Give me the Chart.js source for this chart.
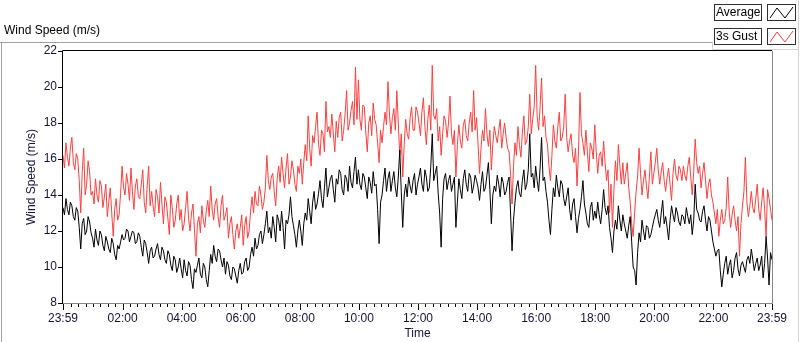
<!DOCTYPE html>
<html>
<head>
<meta charset="utf-8">
<script src="https://cdn.jsdelivr.net/npm/chart.js@4/dist/chart.umd.min.js"></script>
<style>
  html, body { margin: 0; padding: 0; background: #fff; }
  #wrap { width: 800px; height: 342px; }
</style>
</head>
<body>
<div id="wrap"><canvas id="windChart" width="800" height="342"></canvas></div>
<script>
// one sample every 3 minutes, starting 23:59 of the day before
const stepMinutes = 3;

// one row per hour
const avgSpeed = [
  13.3,12.9,13.8,13.2,12.9,13.6,13.4,12.8,12.6,13.3,13.1,12.2,11.0,12.4,12.7,11.8,12.0,12.8,12.5,11.9,
  11.6,11.1,12.1,11.5,11.2,12.0,11.8,11.2,10.9,11.7,11.4,11.0,10.8,11.6,11.3,10.7,10.4,11.2,11.0,11.4,
  11.8,11.5,11.6,12.1,12.0,11.4,11.7,12.0,11.9,11.3,11.4,11.9,11.7,11.1,10.6,11.5,11.3,10.8,10.2,10.9,
  11.1,10.5,10.6,11.0,11.3,10.7,10.4,11.1,10.9,10.4,10.2,10.9,10.7,10.1,9.8,10.6,10.4,9.7,10.0,10.5,
  9.9,9.4,10.4,9.8,9.5,10.3,10.1,9.3,8.8,9.9,9.7,10.1,10.5,9.6,9.4,10.2,10.0,9.3,8.9,9.8,
  10.7,10.2,11.2,10.6,10.3,11.0,10.9,10.4,10.0,10.5,9.6,10.3,10.1,9.5,9.3,10.0,9.9,9.5,9.1,9.8,
  10.2,9.6,9.7,10.3,10.5,9.8,10.0,10.7,11.1,10.6,11.6,11.0,11.2,11.8,12.0,11.3,11.8,12.4,13.1,11.9,
  12.2,11.6,12.8,12.2,11.4,12.9,12.6,12.0,13.1,12.2,11.0,12.6,12.4,12.9,13.9,12.8,12.3,11.8,11.1,12.0,
  12.6,12.0,11.2,12.4,13.0,12.6,13.8,13.1,12.4,13.6,14.2,13.2,13.5,14.1,14.8,13.8,13.3,14.4,15.5,13.9,
  14.4,14.9,15.1,14.3,13.6,14.9,14.6,15.4,15.2,14.3,14.0,15.1,14.9,14.2,15.6,14.7,14.4,15.3,16.1,14.6,
  15.4,14.6,14.3,15.2,15.0,14.4,13.8,15.0,14.7,14.1,15.3,14.5,14.6,13.2,11.3,13.6,14.0,14.8,15.5,14.2,
  14.9,15.3,14.2,14.8,15.3,14.4,13.9,15.0,16.5,14.2,12.2,14.0,14.6,13.9,15.0,14.5,14.1,14.8,15.2,14.0,
  14.6,15.0,15.5,14.6,14.2,15.4,15.0,14.2,14.4,15.6,17.4,14.8,15.2,15.6,14.1,13.0,11.1,13.8,14.9,15.2,
  14.3,14.8,15.1,14.2,14.6,15.0,12.2,13.6,14.9,14.3,13.8,14.9,15.4,14.6,14.2,15.2,15.0,14.1,14.5,15.1,
  14.8,14.4,13.7,14.6,15.3,14.2,14.4,15.1,15.8,14.3,12.4,14.0,14.5,14.2,15.1,14.6,13.9,15.0,14.7,14.0,
  14.2,14.7,15.0,13.0,10.9,12.6,13.6,14.4,14.8,14.1,13.9,14.8,15.4,14.3,14.6,15.4,17.4,15.0,15.2,14.4,
  15.6,14.8,14.2,15.5,17.2,14.8,15.0,14.2,13.6,12.6,11.8,13.2,14.4,13.9,15.1,14.4,13.9,14.8,14.6,13.8,
  13.4,13.9,14.4,13.2,12.6,13.5,13.8,12.8,11.9,12.7,13.2,13.9,14.8,13.5,13.0,12.4,12.2,13.3,13.6,12.6,
  13.1,12.7,13.6,12.9,12.4,13.2,14.3,13.3,12.9,13.4,12.2,11.6,10.8,12.0,12.6,12.1,13.4,12.6,12.0,12.9,
  12.4,12.0,11.6,12.3,12.8,11.4,10.0,9.8,9.0,10.8,11.9,11.4,12.6,12.0,11.5,12.3,12.2,11.6,11.8,12.2,
  12.6,12.9,13.2,12.6,12.2,13.0,13.7,12.4,12.8,12.2,11.5,12.6,13.4,12.9,12.5,13.3,13.0,12.5,12.3,12.9,
  12.8,12.4,13.3,12.8,12.4,12.9,11.8,12.6,14.6,13.2,13.0,12.6,12.5,13.1,13.4,12.6,12.0,12.8,12.6,12.0,
  11.4,11.0,10.6,10.9,11.0,9.8,8.9,9.6,10.2,10.6,9.6,10.1,10.4,9.4,9.8,10.5,10.8,9.9,9.5,10.1,
  10.3,10.0,9.7,10.4,10.6,10.2,11.0,10.4,9.8,10.2,10.5,9.8,10.1,10.6,9.4,10.2,11.7,10.5,9.0,10.8,
  10.4
];

const gustSpeed = [
  16.2,15.5,16.9,16.1,15.6,16.6,17.2,15.8,15.4,16.3,16.0,14.8,13.0,15.2,16.6,14.0,14.6,15.9,15.3,14.0,
  14.2,13.5,14.9,14.0,13.6,14.8,14.5,13.3,13.9,14.6,12.8,13.6,14.4,13.0,11.7,13.2,13.8,12.6,12.9,14.1,
  15.6,14.4,14.0,15.2,14.6,13.7,15.5,14.2,13.2,14.5,14.9,13.9,13.8,14.6,15.4,13.6,13.0,14.5,15.6,13.4,
  14.2,13.4,12.8,14.3,13.9,13.0,14.7,13.5,12.4,13.9,13.6,12.7,11.8,14.0,13.3,12.2,12.6,13.5,14.0,12.6,
  13.2,12.0,12.4,13.3,14.2,12.7,12.0,13.0,13.5,12.1,10.6,12.4,12.8,11.9,13.4,12.6,12.2,13.1,13.7,12.8,
  14.5,13.2,12.6,13.5,13.8,12.8,12.2,13.4,14.0,12.6,12.9,13.3,11.6,12.4,12.8,11.8,11.0,12.0,12.4,11.6,
  12.2,12.9,11.2,12.3,12.8,11.6,12.0,13.1,13.9,13.0,14.2,13.5,13.4,14.5,14.0,13.2,13.6,14.4,16.2,14.8,
  14.3,15.0,15.2,14.2,13.4,14.9,15.6,14.7,16.1,15.2,14.4,15.5,16.3,14.6,15.0,15.9,15.4,14.6,14.2,15.6,
  15.2,16.0,14.6,15.8,16.8,15.9,18.4,16.6,15.6,17.3,16.9,17.8,18.6,16.8,16.2,17.6,17.4,16.4,19.2,17.5,
  17.8,17.2,18.5,17.4,16.4,18.1,17.2,18.3,18.6,17.0,17.6,18.5,19.8,17.6,18.0,18.7,19.2,17.9,21.1,18.2,
  20.4,18.2,17.6,19.0,18.9,17.5,16.4,18.0,18.4,17.3,19.1,18.2,17.9,16.9,15.8,17.6,16.9,17.8,18.6,17.9,
  20.3,18.5,17.4,18.3,18.8,17.6,19.8,18.0,16.2,17.4,15.0,16.8,18.2,17.4,17.1,18.3,18.9,17.6,17.6,18.9,
  18.6,18.0,17.3,18.6,19.4,17.8,16.8,18.2,19.0,17.6,21.2,18.4,18.2,18.8,17.0,17.8,16.2,17.4,18.4,18.1,
  17.2,18.0,19.5,17.4,16.8,17.6,15.0,16.8,17.9,17.0,16.6,17.9,18.2,17.3,17.0,18.0,18.6,17.5,19.8,17.6,
  18.3,16.8,15.2,16.6,17.6,17.0,18.8,17.4,16.7,17.6,15.4,16.8,17.8,17.3,16.9,17.6,18.2,16.6,17.4,18.0,
  17.2,16.6,16.4,15.2,13.5,15.6,16.9,16.2,17.8,16.8,16.1,17.5,18.4,16.8,17.0,17.8,19.6,17.4,18.2,18.9,
  21.2,18.4,17.6,18.9,20.5,17.8,18.4,17.2,16.8,15.6,14.8,16.2,17.9,17.0,16.6,17.8,18.6,17.0,17.2,17.8,
  19.6,17.2,16.4,17.0,17.4,16.2,15.8,16.6,14.5,16.4,19.7,17.4,16.9,16.2,17.6,16.4,15.3,16.9,16.6,16.0,
  17.9,16.4,15.2,16.2,16.4,15.6,17.0,15.8,14.8,15.4,13.0,14.6,12.2,14.3,15.9,14.8,16.8,15.6,14.6,15.8,
  14.6,15.2,15.8,14.4,13.6,12.4,11.7,13.0,14.2,15.0,16.6,15.2,14.0,14.8,15.4,14.5,13.8,15.0,16.4,14.6,
  15.2,15.8,16.6,15.4,14.6,15.3,15.8,14.8,14.2,15.0,15.5,14.6,13.7,15.2,16.0,15.1,14.8,15.6,15.4,14.8,
  15.6,15.1,14.8,15.6,16.1,15.0,14.0,15.3,17.1,15.8,15.2,15.6,14.4,15.2,15.8,14.8,13.8,14.6,14.9,14.0,
  13.6,13.0,12.4,13.2,11.7,12.6,13.2,12.4,12.6,13.3,15.0,13.1,12.2,12.9,13.4,12.6,12.0,12.8,10.6,12.4,
  13.4,14.2,16.1,13.6,12.8,13.4,14.2,13.3,13.0,13.8,14.6,13.2,12.6,13.6,14.4,13.2,11.7,14.3,13.8,13.2,
  12.6
];

const xTickLabels = ['23:59', '02:00', '04:00', '06:00', '08:00', '10:00', '12:00',
                     '14:00', '16:00', '18:00', '20:00', '22:00', '23:59'];
const yTicks = [8, 10, 12, 14, 16, 18, 20, 22];
const seriesNames = ['Average', '3s Gust'];
const seriesColors = ['#000000', '#ff4040'];

const FONT = '"Liberation Sans", Arial, sans-serif';
const TEXT = '#14143a';

function toPoints(vals) {
  return vals.map((v, i) => ({ x: i * stepMinutes, y: v }));
}

// minute offset (from 23:59) -> label, only for the labelled ticks
const labelAt = {};
labelAt[0] = xTickLabels[0];
labelAt[1440] = xTickLabels[xTickLabels.length - 1];
for (let j = 1; j < xTickLabels.length - 1; j++) labelAt[1 + 120 * j] = xTickLabels[j];

const framePlugin = {
  id: 'frame',
  beforeDraw(chart) {
    const c = chart.ctx;
    c.save();
    c.fillStyle = '#fff';
    c.fillRect(0, 0, chart.width, chart.height);

    // panel outline
    c.strokeStyle = '#a0a0a0';
    c.lineWidth = 1;
    c.beginPath();
    c.moveTo(0, 42.5); c.lineTo(712, 42.5);
    c.moveTo(1.5, 42); c.lineTo(1.5, 342);
    c.stroke();
    c.strokeStyle = '#d4d4d4';
    c.beginPath();
    c.moveTo(712.5, 42); c.lineTo(712.5, 49.5); c.lineTo(798, 49.5);
    c.moveTo(798.5, 0); c.lineTo(798.5, 342);
    c.stroke();

    // chart label
    c.fillStyle = '#000';
    c.font = '12px ' + FONT;
    c.textBaseline = 'middle';
    c.textAlign = 'left';
    c.fillText('Wind Speed (m/s)', 4, 31);

    // legend
    seriesNames.forEach((name, k) => {
      const top = 4 + k * 24;
      c.fillStyle = '#fff';
      c.fillRect(714, top, 48, 17);
      c.fillRect(767, top, 29, 17);
      c.strokeStyle = '#303030';
      c.strokeRect(714.5, top + 0.5, 47, 16);
      c.strokeRect(767.5, top + 0.5, 28, 16);
      c.fillStyle = '#000';
      c.fillText(name, 716, top + 9);
      c.strokeStyle = seriesColors[k];
      c.beginPath();
      c.moveTo(770, top + 14);
      c.lineTo(777, top + 4);
      c.lineTo(785, top + 14);
      c.lineTo(793, top + 3);
      c.stroke();
    });
    c.restore();
  },
  afterDraw(chart) {
    const c = chart.ctx;
    const a = chart.chartArea;
    const xs = chart.scales.x;
    c.save();
    c.lineWidth = 1;
    // plot border
    c.strokeStyle = '#000';
    c.beginPath();
    c.moveTo(a.left - 0.5, a.bottom); c.lineTo(a.left - 0.5, a.top - 0.5); c.lineTo(a.right, a.top - 0.5);
    c.stroke();
    c.strokeStyle = '#888';
    c.beginPath();
    c.moveTo(a.right + 0.5, a.top); c.lineTo(a.right + 0.5, a.bottom + 0.5); c.lineTo(a.left, a.bottom + 0.5);
    c.stroke();
    // time ticks, long where labelled
    c.strokeStyle = '#000';
    c.beginPath();
    xs.ticks.forEach(t => {
      const px = Math.round(xs.getPixelForValue(t.value)) + 0.5;
      const len = labelAt[t.value] !== undefined ? 6 : 3;
      c.moveTo(px, a.bottom + 1);
      c.lineTo(px, a.bottom + 1 + len);
    });
    c.stroke();
    c.restore();
  }
};

new Chart(document.getElementById('windChart'), {
  type: 'line',
  data: {
    datasets: [
      {
        label: seriesNames[0],
        data: toPoints(avgSpeed),
        borderColor: seriesColors[0],
        borderWidth: 1,
        pointRadius: 0,
        tension: 0,
        fill: false
      },
      {
        label: seriesNames[1],
        data: toPoints(gustSpeed),
        borderColor: seriesColors[1],
        borderWidth: 1,
        pointRadius: 0,
        tension: 0,
        fill: false
      }
    ]
  },
  options: {
    responsive: false,
    animation: false,
    events: [],
    layout: { padding: { left: 0, top: 51, right: 28, bottom: 0 } },
    plugins: { legend: { display: false }, tooltip: { enabled: false } },
    scales: {
      x: {
        type: 'linear',
        min: 0,
        max: 1440,
        afterFit: s => { s.height = 39; },
        afterBuildTicks: s => {
          const t = [{ value: 0 }];
          for (let m = 1; m < 1440; m += 15) t.push({ value: m });
          t.push({ value: 1440 });
          s.ticks = t;
        },
        grid: { display: false, drawTicks: true, tickLength: 6 },
        border: { display: false },
        ticks: {
          autoSkip: false,
          maxRotation: 0,
          padding: 2,
          color: TEXT,
          font: { family: FONT, size: 12 },
          callback: v => labelAt[v] !== undefined ? labelAt[v] : ''
        },
        title: {
          display: true,
          text: 'Time',
          color: TEXT,
          font: { family: FONT, size: 12 },
          padding: { top: 0, bottom: 1 }
        }
      },
      y: {
        min: 8,
        max: 22,
        afterFit: s => { s.width = 63; },
        afterBuildTicks: s => { s.ticks = yTicks.map(v => ({ value: v })); },
        grid: { drawOnChartArea: false, tickLength: 5, tickColor: '#000' },
        border: { display: false },
        ticks: {
          padding: 1,
          color: TEXT,
          font: { family: FONT, size: 12 }
        },
        title: {
          display: true,
          text: 'Wind Speed (m/s)',
          color: TEXT,
          font: { family: FONT, size: 12 },
          padding: { top: 24, bottom: 0 }
        }
      }
    }
  },
  plugins: [framePlugin]
});
</script>
</body>
</html>
